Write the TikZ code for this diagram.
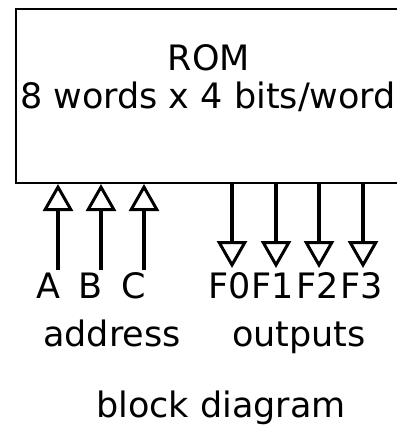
\documentclass[tikz,border=0pt]{standalone}
\usepackage{fontspec}
\setmainfont{DejaVu Sans}
\usetikzlibrary{arrows.meta,positioning}
\tikzset
{
    rombox/.style   = {draw=black, line width=2pt, minimum width=388pt, minimum height=174pt, inner sep=0pt, anchor=north west},
    bigtext/.style  = {font=\fontsize{35}{38}\selectfont, inner sep=0pt, anchor=base},
    pinlabel/.style = {font=\fontsize{35}{38}\selectfont, inner sep=0pt, anchor=base},
    pinarrow/.style = {line width=4.5pt, -{Triangle[open, width=30pt, length=27pt, line width=3pt]}}
}

\begin{document}
\begin{tikzpicture}[x=1pt, y=-1pt]
\useasboundingbox (0,0) rectangle (396,425);
\node[rombox] (rom) at (15,8) {};
\node[bigtext] (romname) at (209,71) {ROM};
\node[bigtext] (romsize) at (208,108) {8 words x 4 bits/word};
% address lines
\foreach \name/\x/\lx in {A/58/48, B/101/91, C/144/134}
{
	\node[pinlabel] (l\name) at (\lx,298) {\name};
	\coordinate (t\name) at (\x,270);
	\draw[pinarrow] (t\name) -- (t\name |- rom.south);
}
% output lines
\foreach \name/\x/\lx in {0/232/230, 1/276/273, 2/319/318, 3/363/362}
{
	\node[pinlabel] (lF\name) at (\lx,298) {F\name};
	\coordinate (tF\name) at (\x,268);
	\draw[pinarrow] (tF\name |- rom.south) -- (tF\name);
}
\node[bigtext] (address) at (112,346) {address};
\node[bigtext] (outputs) at (299,346) {outputs};
\node[bigtext] (caption) at (221,417) {block diagram};
\end{tikzpicture}
\end{document}
